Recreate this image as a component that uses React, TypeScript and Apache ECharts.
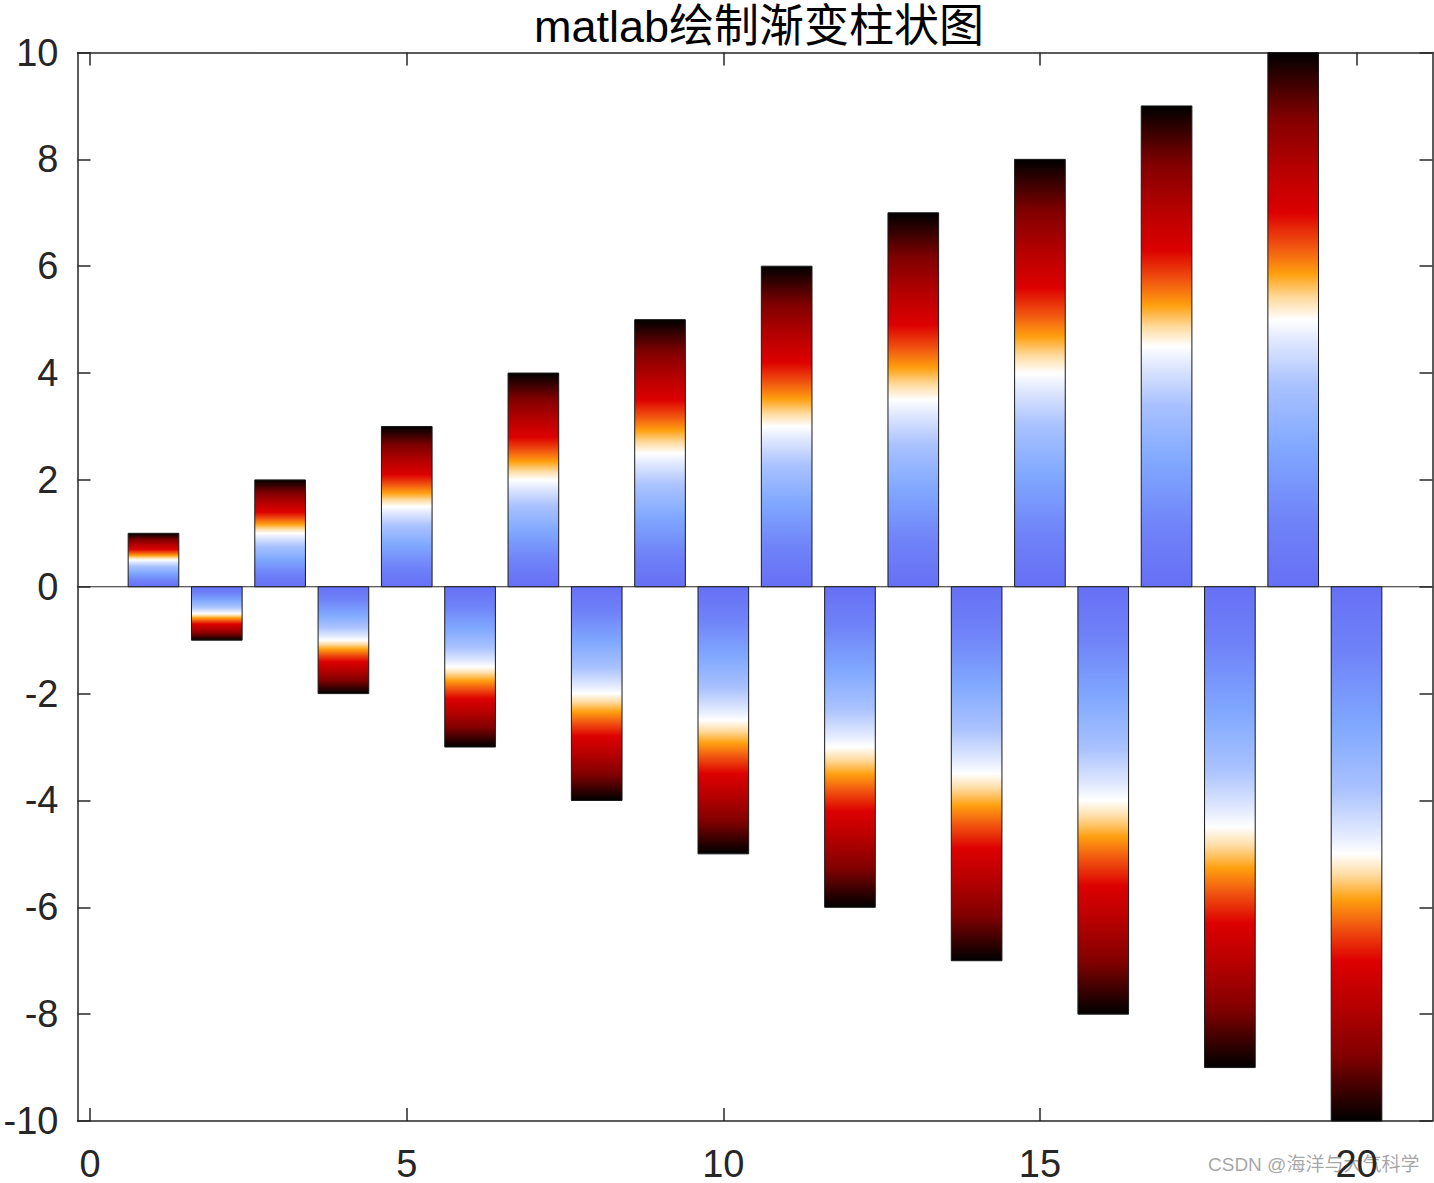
import React, { useEffect, useRef } from "react";
import * as echarts from "echarts";

const TITLE = "matlab绘制渐变柱状图";
const X_POSITIONS = [1, 2, 3, 4, 5, 6, 7, 8, 9, 10, 11, 12, 13, 14, 15, 16, 17, 18, 19, 20];
const VALUES = [1, -1, 2, -2, 3, -3, 4, -4, 5, -5, 6, -6, 7, -7, 8, -8, 9, -9, 10, -10];
const X_TICKS = [0, 5, 10, 15, 20];
const BASELINE = [[-0.2, 0], [21.2, 0]];
const WATERMARK = "CSDN @海洋与大气科学";

const COLOR_STOPS = [
  { offset: 0, color: "#6670f5" },
  { offset: 0.12, color: "#6f82f8" },
  { offset: 0.26, color: "#80a8ff" },
  { offset: 0.38, color: "#aac2ff" },
  { offset: 0.46, color: "#e0e8ff" },
  { offset: 0.5, color: "#ffffff" },
  { offset: 0.54, color: "#ffdba0" },
  { offset: 0.585, color: "#ffa010" },
  { offset: 0.64, color: "#f05010" },
  { offset: 0.7, color: "#dd0000" },
  { offset: 0.78, color: "#b80000" },
  { offset: 0.88, color: "#800000" },
  { offset: 0.95, color: "#350000" },
  { offset: 1, color: "#000000" },
];

const AXIS_COLOR = "#262626";
const FONT = "'Liberation Sans', Arial, 'Noto Sans CJK SC', sans-serif";

export default function App() {
  const ref = useRef<HTMLDivElement>(null);

  useEffect(() => {
    if (!ref.current) return;
    const chart = echarts.init(ref.current, undefined, { renderer: "svg" });
    const data = X_POSITIONS.map((x, i) => [x, VALUES[i]]);
    const BAR_W = 0.8;

    const axisLine = { show: true, onZero: false, lineStyle: { color: AXIS_COLOR, width: 1.5 } };
    const axisTick = { show: true, inside: true, length: 13, lineStyle: { color: AXIS_COLOR, width: 1.5 } };

    chart.setOption({
      animation: false,
      backgroundColor: "#ffffff",
      title: {
        text: TITLE,
        left: 754,
        textAlign: "center",
        top: -1,
        textStyle: { fontSize: 45, fontWeight: "normal", color: "#000", fontFamily: FONT },
      },
      grid: { left: 77.5, right: 1.5, top: 52.5, bottom: 57, containLabel: false },
      xAxis: [
        {
          type: "value",
          min: -0.2,
          max: 21.2,
          position: "bottom",
          axisLine,
          axisTick: { ...axisTick, customValues: X_TICKS },
          axisLabel: {
            customValues: X_TICKS,
            fontSize: 38,
            color: AXIS_COLOR,
            fontFamily: FONT,
            margin: 24,
          },
          splitLine: { show: false },
        },
        {
          type: "value",
          min: -0.2,
          max: 21.2,
          position: "top",
          axisLine,
          axisTick: { ...axisTick, customValues: X_TICKS },
          axisLabel: { show: false },
          splitLine: { show: false },
        },
      ],
      yAxis: [
        {
          type: "value",
          min: -10,
          max: 10,
          interval: 2,
          position: "left",
          axisLine,
          axisTick,
          axisLabel: { fontSize: 38, color: AXIS_COLOR, fontFamily: FONT, margin: 19 },
          splitLine: { show: false },
        },
        {
          type: "value",
          min: -10,
          max: 10,
          interval: 2,
          position: "right",
          axisLine,
          axisTick,
          axisLabel: { show: false },
          splitLine: { show: false },
        },
      ],
      graphic: [
        {
          type: "text",
          x: 1208,
          y: 1155,
          z: -1,
          style: {
            text: WATERMARK,
            fontSize: 19,
            fill: "rgba(150,150,150,0.85)",
            fontFamily: FONT,
          },
        },
      ],
      series: [
        {
          type: "line",
          data: BASELINE,
          xAxisIndex: 0,
          yAxisIndex: 0,
          symbol: "none",
          lineStyle: { color: AXIS_COLOR, width: 1.2 },
          z: 1,
          silent: true,
        },
        {
          type: "custom",
          xAxisIndex: 0,
          yAxisIndex: 0,
          data,
          z: 2,
          renderItem: (params: any, api: any) => {
            const x = api.value(0);
            const v = api.value(1);
            const p1 = api.coord([x - BAR_W / 2, 0]);
            const p2 = api.coord([x + BAR_W / 2, v]);
            const left = Math.min(p1[0], p2[0]);
            const top = Math.min(p1[1], p2[1]);
            const w = Math.abs(p2[0] - p1[0]);
            const h = Math.abs(p2[1] - p1[1]);
            const pos = v >= 0;
            const grad = new echarts.graphic.LinearGradient(0, pos ? 1 : 0, 0, pos ? 0 : 1, COLOR_STOPS);
            return {
              type: "rect",
              shape: { x: left, y: top, width: w, height: h },
              style: { fill: grad, stroke: "#1a1a1a", lineWidth: 1 },
            };
          },
        },
      ],
    });

    return () => chart.dispose();
  }, []);

  return (
    <div
      ref={ref}
      style={{ position: "absolute", left: 0, top: 0, width: 1434, height: 1183 }}
    />
  );
}
